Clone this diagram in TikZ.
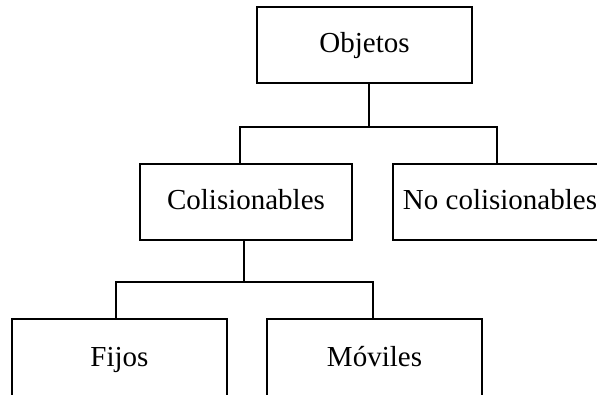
\documentclass[tikz,border=0pt]{standalone}
\usepackage{fontspec}
\setmainfont{Liberation Serif}
\begin{document}
\begin{tikzpicture}[x=1pt,y=-1pt,
  box/.style={draw, line width=1.1pt, minimum width=215pt, minimum height=76pt, inner sep=0pt, text height=20pt, text depth=6pt, font=\fontsize{29}{34}\selectfont},
  conn/.style={line width=1.1pt}]
\useasboundingbox (0,0) rectangle (597,394);
\clip (0,0) rectangle (597,394);
\node[box] (obj) at (364.5,45) {Objetos};
\node[box, minimum width=212pt] (col) at (246,202) {Colisionables};
\node[box, minimum width=214pt] (noc) at (500,202) {No colisionables};
\node[box, minimum height=80pt] (fij) at (119.5,359) {Fijos};
\node[box, minimum height=80pt] (mov) at (374.5,359) {Móviles};
\coordinate (j1) at (369,127);
\coordinate (c1) at (240,127);
\coordinate (c2) at (497,127);
\draw[conn] (j1 |- obj.south) -- (j1);
\draw[conn] (c1 |- col.north) -- (c1) -- (c2) -- (c2 |- noc.north);
\coordinate (j2) at (244,282);
\coordinate (f1) at (116,282);
\coordinate (f2) at (373,282);
\draw[conn] (j2 |- col.south) -- (j2);
\draw[conn] (f1 |- fij.north) -- (f1) -- (f2) -- (f2 |- mov.north);
\end{tikzpicture}
\end{document}
